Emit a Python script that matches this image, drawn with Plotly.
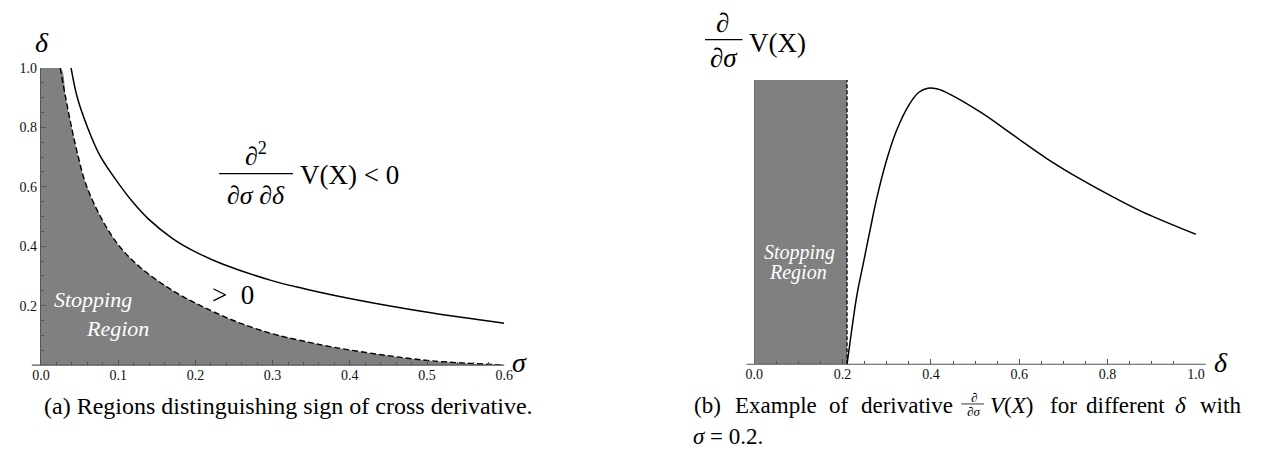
import plotly.graph_objects as go

# ---------------- data ----------------
# Panel (a): stopping-region boundary (dashed) and sign-change curve (solid)
stop_sigma = [0.025, 0.032, 0.039, 0.047, 0.058, 0.077, 0.100, 0.128, 0.171,
              0.213, 0.256, 0.300, 0.341, 0.379, 0.443, 0.507, 0.6]
stop_delta = [1.0, 0.900, 0.808, 0.715, 0.610, 0.500, 0.405, 0.330, 0.250,
              0.192, 0.143, 0.105, 0.080, 0.060, 0.034, 0.014, 0.0]
sign_sigma = [0.039, 0.047, 0.060, 0.077, 0.103, 0.120, 0.139, 0.171, 0.200,
              0.235, 0.298, 0.341, 0.379, 0.443, 0.507, 0.6]
sign_delta = [1.0, 0.901, 0.802, 0.702, 0.602, 0.545, 0.492, 0.425, 0.381,
              0.340, 0.285, 0.257, 0.235, 0.203, 0.175, 0.141]
a_xticks = [0.0, 0.1, 0.2, 0.3, 0.4, 0.5, 0.6]
a_xlabels = ["0.0", "0.1", "0.2", "0.3", "0.4", "0.5", "0.6"]
a_yticks = [0.2, 0.4, 0.6, 0.8, 1.0]
a_ylabels = ["0.2", "0.4", "0.6", "0.8", "1.0"]

# Panel (b): derivative dV/dsigma vs delta (sigma = 0.2), arbitrary units
b_delta = [0.210, 0.221, 0.232, 0.247, 0.262, 0.277, 0.299, 0.321, 0.351, 0.372,
           0.393, 0.415, 0.440, 0.515, 0.589, 0.664, 0.738, 0.813, 0.879, 1.0]
b_value = [0.0, 0.125, 0.240, 0.356, 0.471, 0.582, 0.715, 0.818, 0.914, 0.956,
           0.971, 0.968, 0.952, 0.884, 0.803, 0.722, 0.652, 0.588, 0.536, 0.457]
b_stop_delta = 0.21
b_stop_top = 1.0
b_xticks = [0.0, 0.2, 0.4, 0.6, 0.8, 1.0]
b_xlabels = ["0.0", "0.2", "0.4", "0.6", "0.8", "1.0"]

# ---------------- layout helpers ----------------
# the page has the browser's default 8px body margin, so the figure is
# 16px smaller than the window and every pixel position is shifted by 8
W, H = 1274, 473
M = 8
FW, FH = W - 2 * M, H - 2 * M
def PX(x):
    return (x - M) / FW
def PY(y):
    return 1 - (y - M) / FH

SERIF = "Liberation Serif"
GRAY = "#808080"
AXC = "#555555"

fig = go.Figure()

# ---- panel (a) ----
fig.add_trace(go.Scatter(x=[0.0] + stop_sigma, y=[1.0] + stop_delta, mode="lines",
                         line=dict(width=0, shape="spline", smoothing=1.0),
                         fill="tozeroy", fillcolor=GRAY, xaxis="x", yaxis="y",
                         hoverinfo="skip", showlegend=False))
fig.add_trace(go.Scatter(x=stop_sigma, y=stop_delta, mode="lines",
                         line=dict(color="black", width=1.4, dash="6px,3px",
                                   shape="spline", smoothing=1.0),
                         xaxis="x", yaxis="y", showlegend=False))
fig.add_trace(go.Scatter(x=sign_sigma, y=sign_delta, mode="lines",
                         line=dict(color="black", width=1.5, shape="spline", smoothing=1.0),
                         xaxis="x", yaxis="y", showlegend=False))

# ---- panel (b) ----
fig.add_trace(go.Scatter(x=[0.0, b_stop_delta], y=[b_stop_top, b_stop_top], mode="lines",
                         line=dict(width=0), fill="tozeroy", fillcolor=GRAY,
                         xaxis="x2", yaxis="y2", hoverinfo="skip", showlegend=False))
fig.add_trace(go.Scatter(x=[0.0, 0.0], y=[0.0, b_stop_top], mode="lines",
                         line=dict(color="#333333", width=1),
                         xaxis="x2", yaxis="y2", showlegend=False))
fig.add_trace(go.Scatter(x=[b_stop_delta, b_stop_delta], y=[0.0, b_stop_top], mode="lines",
                         line=dict(color="black", width=1.3, dash="4px,2px"),
                         xaxis="x2", yaxis="y2", showlegend=False))
fig.add_trace(go.Scatter(x=b_delta, y=b_value, mode="lines",
                         line=dict(color="black", width=1.5, shape="spline", smoothing=1.0),
                         xaxis="x2", yaxis="y2", showlegend=False))

tickfont = dict(family=SERIF, size=14, color="#111111")
common = dict(showgrid=False, zeroline=False, ticks="inside", ticklen=5, tickwidth=1,
              tickcolor=AXC, tickfont=tickfont)

fig.update_layout(
    width=FW, height=FH, margin=dict(l=0, r=0, t=0, b=0, pad=0),
    paper_bgcolor="white", plot_bgcolor="white", showlegend=False,
    xaxis=dict(domain=[PX(32.3), PX(502.3)], range=[0, 0.6], anchor="y",
               tickmode="array", tickvals=a_xticks, ticktext=a_xlabels,
               showline=False,
               minor=dict(ticks="inside", dtick=0.02, tick0=0, ticklen=3,
                          tickcolor=AXC), **common),
    yaxis=dict(domain=[PY(363.5), PY(61.7)], range=[0, 1], anchor="x",
               tickmode="array", tickvals=a_yticks, ticktext=a_ylabels,
               showline=True, linecolor=AXC, linewidth=1.2,
               minor=dict(ticks="inside", dtick=0.05, tick0=0, ticklen=3,
                          tickcolor=AXC), **common),
    xaxis2=dict(domain=[PX(756), PX(1204)], range=[0, 1], anchor="y2",
                tickmode="array", tickvals=b_xticks, ticktext=b_xlabels,
                showline=False,
                minor=dict(ticks="inside", dtick=0.05, tick0=0, ticklen=3,
                           tickcolor=AXC), **common),
    yaxis2=dict(domain=[PY(362.7), PY(74)], range=[0, 1], anchor="x2",
                visible=False),
)

# axis lines drawn as shapes (they extend a little past the data range)
shapes = [
    dict(type="line", xref="paper", yref="paper", x0=PX(23), x1=PX(502.3),
         y0=PY(363.5), y1=PY(363.5), line=dict(color=AXC, width=1.2)),
    dict(type="line", xref="paper", yref="paper", x0=PX(748), x1=PX(1214),
         y0=PY(362.7), y1=PY(362.7), line=dict(color=AXC, width=1.2)),
    # fraction bars
    dict(type="line", xref="paper", yref="paper", x0=PX(213), x1=PX(288),
         y0=PY(169), y1=PY(169), line=dict(color="black", width=1.2)),
    dict(type="line", xref="paper", yref="paper", x0=PX(706), x1=PX(744),
         y0=PY(33), y1=PY(33), line=dict(color="black", width=1.2)),
    dict(type="line", xref="paper", yref="paper", x0=PX(966), x1=PX(989),
         y0=PY(403), y1=PY(403), line=dict(color="black", width=0.8)),
]
fig.update_layout(shapes=shapes)

def ann(text, x, y, size, xanchor="center", color="black", family=SERIF):
    fig.add_annotation(text=text, x=PX(x), y=PY(y), xref="paper", yref="paper",
                       xanchor=xanchor, yanchor="middle", showarrow=False,
                       font=dict(family=family, size=size, color=color))

# panel (a) texts
ann("<i>δ</i>", 33, 36, 28)
ann("<i>σ</i>", 518, 361, 28)
ann("∂<sup>2</sup>", 250, 150, 26)
ann("∂<i>σ</i> ∂<i>δ</i>", 250, 191, 26)
ann("V(X) &lt; 0", 293, 170, 27, xanchor="left")
ann("&gt;  0", 227, 292, 27)
ann("<i>Stopping</i>", 85, 297, 22, color="white")
ann("<i>Region</i>", 110, 326, 22, color="white")

# panel (b) texts
ann("∂", 724, 16, 27)
ann("∂<i>σ</i>", 725, 52, 27)
ann("V(X)", 749, 36, 27, xanchor="left")
ann("<i>δ</i>", 1229, 361, 28)
ann("<i>Stopping</i>", 802, 249, 20, color="white")
ann("<i>Region</i>", 800, 269, 20, color="white")

# captions
ann("(a) Regions distinguishing sign of cross derivative.", 33, 405, 24, xanchor="left")
for word, xw in [("(b)", 693), ("Example", 734), ("of", 830), ("derivative", 862),
                 ("<i>V</i>(<i>X</i>)", 993), ("for", 1054), ("different", 1090),
                 ("<i>δ</i>", 1181), ("with", 1206)]:
    ann(word, xw, 405, 23, xanchor="left")
ann("∂", 978.5, 396, 13)
ann("∂<i>σ</i>", 978.5, 411, 13)
ann("<i>σ</i> = 0.2.", 692, 436, 23, xanchor="left")

fig.write_html("out.html", config={"displayModeBar": False})
